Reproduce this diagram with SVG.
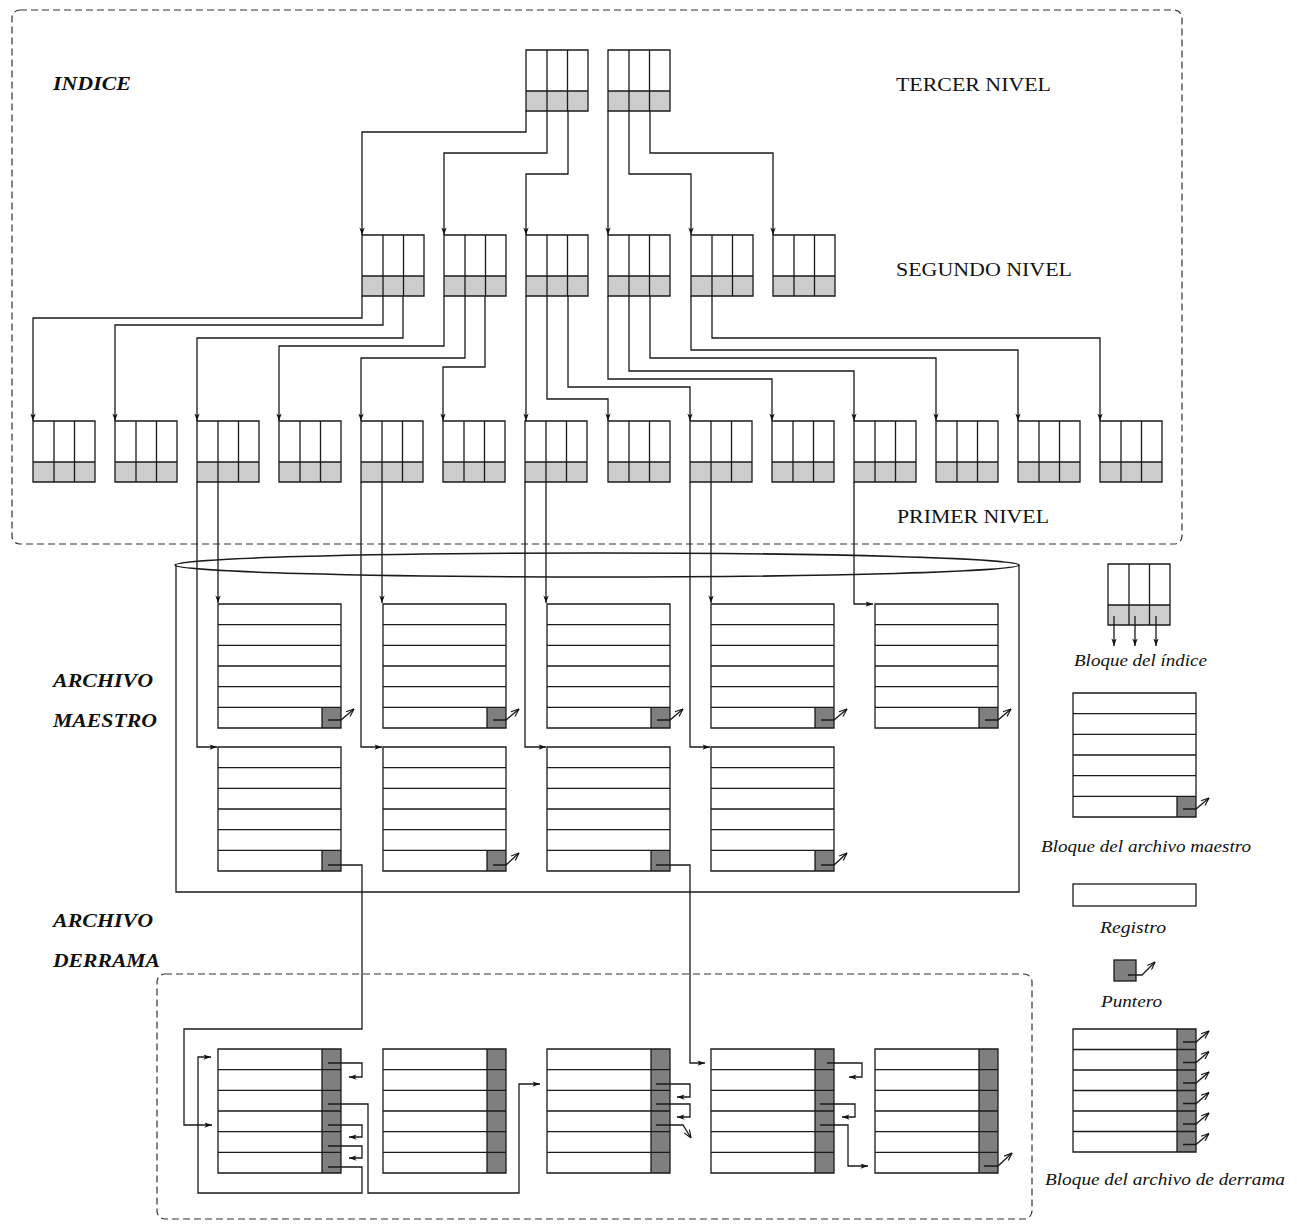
<svg xmlns="http://www.w3.org/2000/svg" xmlns:xlink="http://www.w3.org/1999/xlink" width="1297" height="1225" viewBox="0 0 1297 1225">
<style>
.ln{fill:none;stroke:#1a1a1a;stroke-width:1.3}
.dash{fill:none;stroke:#333;stroke-width:1.2;stroke-dasharray:7 4}
.h{font-family:"Liberation Serif",serif;font-size:19px;fill:#111}
.hb{font-family:"Liberation Serif",serif;font-size:18px;font-weight:bold;font-style:italic;fill:#111}
.lg{font-family:"Liberation Serif",serif;font-size:16px;font-style:italic;fill:#111}
</style>
<defs>
<marker id="ah" viewBox="0 0 10 8" refX="10" refY="4" markerWidth="8" markerHeight="6" markerUnits="userSpaceOnUse" orient="auto"><path d="M0,0.5 L10,4 L0,7.5 L2.5,4 Z" fill="#111"/></marker>
<marker id="pa" viewBox="0 0 10 8" refX="10" refY="4" markerWidth="9" markerHeight="7" markerUnits="userSpaceOnUse" orient="auto"><path d="M1,0.5 L10,4 L1,7.5" fill="none" stroke="#111" stroke-width="1.3"/></marker>
<g id="ib">
<rect width="62" height="61" fill="#fff"/>
<rect y="41" width="62" height="20" fill="#cccccc"/>
<path class="ln" d="M0,0H62V61H0Z M21,0V61 M41.5,0V61 M0,41H62"/>
</g>
<g id="mb">
<rect width="123" height="124" fill="#fff"/>
<rect x="104" y="103.3" width="19" height="20.7" fill="#7f7f7f"/>
<path class="ln" d="M0,0H123V124H0Z M0,20.7H123 M0,41.3H123 M0,62H123 M0,82.7H123 M0,103.3H123 M104,103.3V124"/>
</g>
<g id="db">
<rect width="123" height="124" fill="#fff"/>
<rect x="104" width="19" height="124" fill="#7f7f7f"/>
<path class="ln" d="M0,0H123V124H0Z M0,20.7H123 M0,41.3H123 M0,62H123 M0,82.7H123 M0,103.3H123 M104,0V124"/>
</g>
</defs>
<rect width="1297" height="1225" fill="#fff"/>

<!-- frames -->
<g id="frame-indice"><rect class="dash" x="12" y="10" width="1170" height="534" rx="8"/></g>
<g id="frame-maestro">
<ellipse cx="597" cy="565" rx="422" ry="12" fill="none" stroke="#1a1a1a" stroke-width="1.6"/>
<path class="ln" d="M176,565V892H1019V565"/>
</g>
<g id="frame-derrama"><rect class="dash" x="157" y="974" width="875" height="245" rx="8"/></g>

<!-- labels -->
<g id="labels">
<text class="hb" x="53" y="90" textLength="78" lengthAdjust="spacingAndGlyphs">INDICE</text>
<text class="h" x="896" y="91" textLength="155" lengthAdjust="spacingAndGlyphs">TERCER NIVEL</text>
<text class="h" x="896" y="276" textLength="176" lengthAdjust="spacingAndGlyphs">SEGUNDO NIVEL</text>
<text class="h" x="897" y="523" textLength="152" lengthAdjust="spacingAndGlyphs">PRIMER NIVEL</text>
<text class="hb" x="53" y="687" textLength="100" lengthAdjust="spacingAndGlyphs">ARCHIVO</text>
<text class="hb" x="53" y="727" textLength="104" lengthAdjust="spacingAndGlyphs">MAESTRO</text>
<text class="hb" x="53" y="927" textLength="100" lengthAdjust="spacingAndGlyphs">ARCHIVO</text>
<text class="hb" x="53" y="967" textLength="107" lengthAdjust="spacingAndGlyphs">DERRAMA</text>
</g>

<!-- index third level -->
<g id="n3-1"><use href="#ib" x="526" y="50"/></g>
<g id="n3-2"><use href="#ib" x="608" y="50"/></g>
<!-- second level -->
<g id="n2-1"><use href="#ib" x="362" y="235"/></g>
<g id="n2-2"><use href="#ib" x="444" y="235"/></g>
<g id="n2-3"><use href="#ib" x="526" y="235"/></g>
<g id="n2-4"><use href="#ib" x="608" y="235"/></g>
<g id="n2-5"><use href="#ib" x="691" y="235"/></g>
<g id="n2-6"><use href="#ib" x="773" y="235"/></g>
<!-- first level -->
<g id="n1-1"><use href="#ib" x="33" y="421"/></g>
<g id="n1-2"><use href="#ib" x="115" y="421"/></g>
<g id="n1-3"><use href="#ib" x="197" y="421"/></g>
<g id="n1-4"><use href="#ib" x="279" y="421"/></g>
<g id="n1-5"><use href="#ib" x="361" y="421"/></g>
<g id="n1-6"><use href="#ib" x="443" y="421"/></g>
<g id="n1-7"><use href="#ib" x="525" y="421"/></g>
<g id="n1-8"><use href="#ib" x="608" y="421"/></g>
<g id="n1-9"><use href="#ib" x="690" y="421"/></g>
<g id="n1-10"><use href="#ib" x="772" y="421"/></g>
<g id="n1-11"><use href="#ib" x="854" y="421"/></g>
<g id="n1-12"><use href="#ib" x="936" y="421"/></g>
<g id="n1-13"><use href="#ib" x="1018" y="421"/></g>
<g id="n1-14"><use href="#ib" x="1100" y="421"/></g>

<!-- master file -->
<g id="m1-1"><use href="#mb" x="218" y="604"/></g>
<g id="m1-2"><use href="#mb" x="383" y="604"/></g>
<g id="m1-3"><use href="#mb" x="547" y="604"/></g>
<g id="m1-4"><use href="#mb" x="711" y="604"/></g>
<g id="m1-5"><use href="#mb" x="875" y="604"/></g>
<g id="m2-1"><use href="#mb" x="218" y="747"/></g>
<g id="m2-2"><use href="#mb" x="383" y="747"/></g>
<g id="m2-3"><use href="#mb" x="547" y="747"/></g>
<g id="m2-4"><use href="#mb" x="711" y="747"/></g>

<!-- overflow file -->
<g id="d-1"><use href="#db" x="218" y="1049"/></g>
<g id="d-2"><use href="#db" x="383" y="1049"/></g>
<g id="d-3"><use href="#db" x="547" y="1049"/></g>
<g id="d-4"><use href="#db" x="711" y="1049"/></g>
<g id="d-5"><use href="#db" x="875" y="1049"/></g>

<!-- connectors -->
<g id="connectors">
<g marker-end="url(#ah)" class="ln">
<path d="M526,111V132H362V235"/>
<path d="M547,111V153H444V235"/>
<path d="M568,111V174H526V235"/>
<path d="M608,111V235"/>
<path d="M629,111V174H691V235"/>
<path d="M650,111V153H773V235"/>

<path d="M362,296V318H33V421"/>
<path d="M383,296V325H115V421"/>
<path d="M403,296V338H197V421"/>
<path d="M444,296V346H279V421"/>
<path d="M465,296V358H361V421"/>
<path d="M485,296V367H443V421"/>
<path d="M526,296V421"/>
<path d="M547,296V399H608V421"/>
<path d="M568,296V387H690V421"/>
<path d="M608,296V379H772V421"/>
<path d="M629,296V371H854V421"/>
<path d="M650,296V358H936V421"/>
<path d="M691,296V350H1018V421"/>
<path d="M712,296V338H1100V421"/>

<path d="M197,482V747H217"/>
<path d="M218,482V603"/>
<path d="M361,482V747H382"/>
<path d="M382,482V603"/>
<path d="M525,482V747H546"/>
<path d="M546,482V603"/>
<path d="M690,482V747H710"/>
<path d="M711,482V603"/>
<path d="M854,482V604H873"/>

<path d="M328,865H362V1029H184V1125H212"/>
<path d="M656,865H690V1063H705"/>

<path d="M328,1063H362V1077H349"/>
<path d="M328,1104H368V1193H519V1084H540"/>
<path d="M328,1125H362V1137H349"/>
<path d="M328,1146H362V1158H349"/>
<path d="M328,1167H362V1193H198V1057H211"/>

<path d="M656,1084H690V1097H677"/>
<path d="M656,1104H690V1117H677"/>

<path d="M827,1063H862V1077H849"/>
<path d="M820,1104H855V1117H842"/>
<path d="M820,1125H848V1166H868"/>
</g>
<g marker-end="url(#pa)" class="ln">
<path d="M328,720H341L354,709"/>
<path d="M493,720H506L519,709"/>
<path d="M657,720H670L683,709"/>
<path d="M821,720H834L847,709"/>
<path d="M985,720H998L1011,709"/>
<path d="M493,865H506L519,853"/>
<path d="M821,865H834L847,853"/>
<path d="M656,1125H683L691,1138"/>
<path d="M984,1166H998L1012,1153"/>
</g>
</g>

<!-- legend -->
<g id="legend-indice">
<use href="#ib" x="1108" y="564"/>
<g class="ln" marker-end="url(#ah)">
<path d="M1114,616V646"/>
<path d="M1135,616V646"/>
<path d="M1156,616V646"/>
</g>
<text class="lg" x="1074" y="666" textLength="133" lengthAdjust="spacingAndGlyphs">Bloque del índice</text>
</g>
<g id="legend-maestro">
<use href="#mb" x="1073" y="693"/>
<path class="ln" marker-end="url(#pa)" d="M1183,809H1196L1209,798"/>
<text class="lg" x="1041" y="852" textLength="210" lengthAdjust="spacingAndGlyphs">Bloque del archivo maestro</text>
</g>
<g id="legend-registro">
<rect class="ln" x="1073" y="884" width="123" height="22" fill="#fff"/>
<text class="lg" x="1100" y="933" textLength="66" lengthAdjust="spacingAndGlyphs">Registro</text>
</g>
<g id="legend-puntero">
<rect x="1114" y="960" width="22" height="21" fill="#7f7f7f" stroke="#1a1a1a" stroke-width="1.3"/>
<path class="ln" marker-end="url(#pa)" d="M1128,975H1142L1155,962"/>
<text class="lg" x="1101" y="1007" textLength="61" lengthAdjust="spacingAndGlyphs">Puntero</text>
</g>
<g id="legend-derrama">
<rect x="1073" y="1029" width="123" height="123" fill="#fff"/>
<rect x="1177" y="1029" width="19" height="123" fill="#7f7f7f"/>
<path class="ln" d="M1073,1029H1196V1152H1073Z M1073,1049.5H1196 M1073,1070H1196 M1073,1090.5H1196 M1073,1111H1196 M1073,1131.5H1196 M1177,1029V1152"/>
<g class="ln" marker-end="url(#pa)">
<path d="M1183,1042H1196L1209,1031"/>
<path d="M1183,1062.5H1196L1209,1051.5"/>
<path d="M1183,1083H1196L1209,1072"/>
<path d="M1183,1103.5H1196L1209,1092.5"/>
<path d="M1183,1124H1196L1209,1113"/>
<path d="M1183,1144.5H1196L1209,1133.5"/>
</g>
<text class="lg" x="1045" y="1185" textLength="240" lengthAdjust="spacingAndGlyphs">Bloque del archivo de derrama</text>
</g>
</svg>
